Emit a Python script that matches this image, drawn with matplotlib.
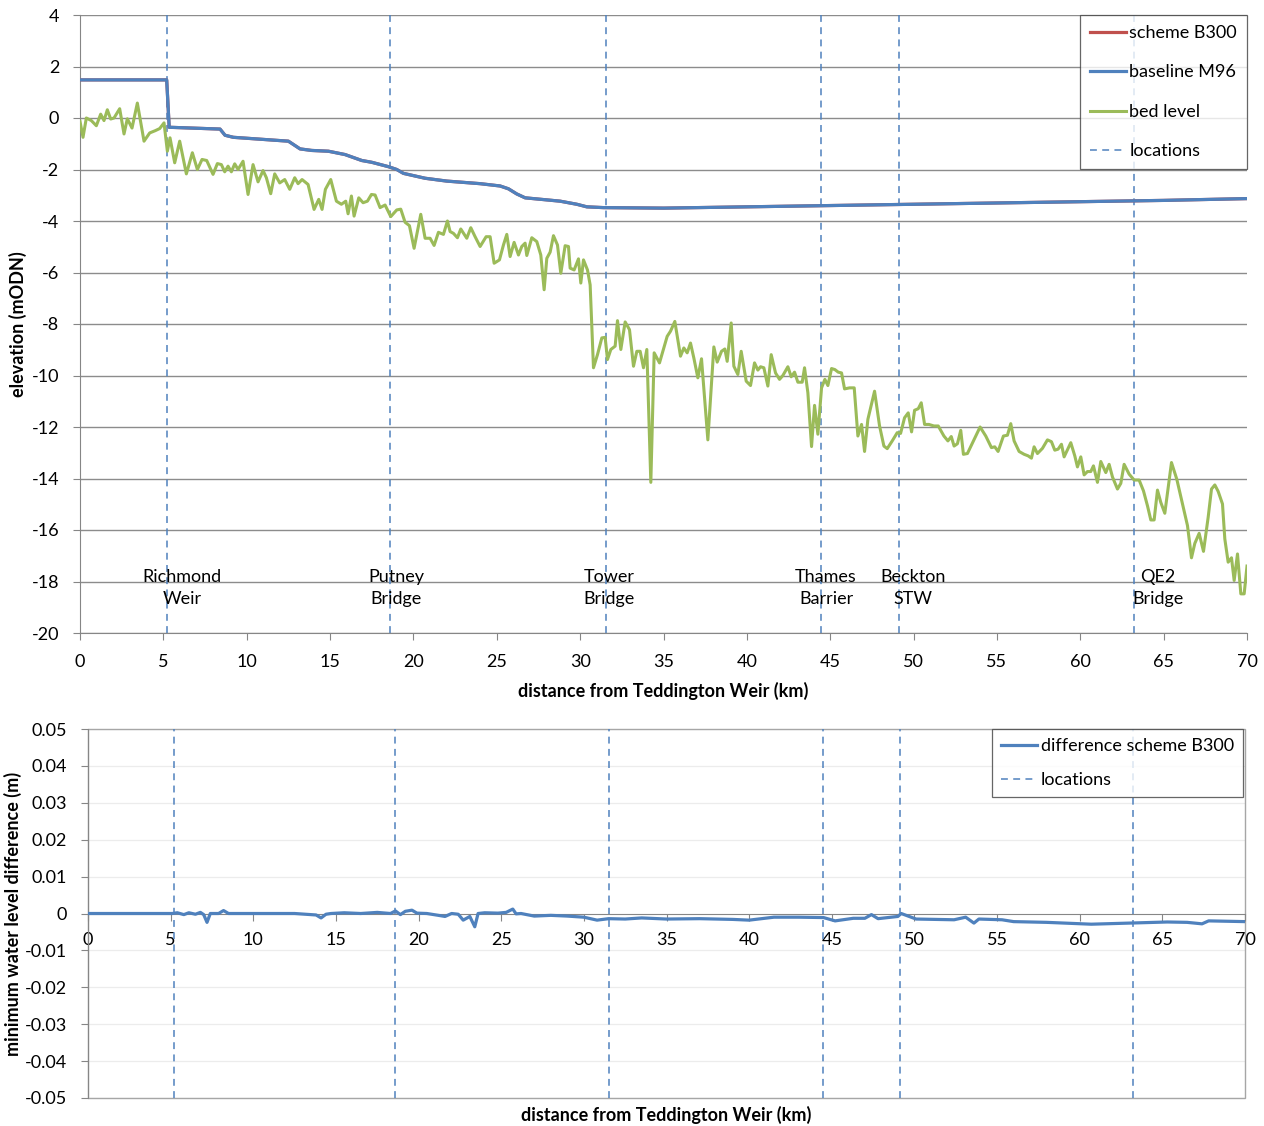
import matplotlib
matplotlib.use("Agg")
import matplotlib.pyplot as plt
from matplotlib.patches import Rectangle
import numpy as np

plt.rcParams['font.family'] = ['Lato', 'DejaVu Sans']
plt.rcParams['axes.unicode_minus'] = False

# ---------------- data ----------------
location_km = [5.22, 18.6, 31.55, 44.45, 49.13, 63.2]
location_names = ["Richmond\nWeir", "Putney\nBridge", "Tower\nBridge",
                  "Thames\nBarrier", "Beckton\nSTW", "QE2\nBridge"]
location_label_km = [6.12, 18.96, 31.74, 44.75, 49.97, 64.67]

baseline_km = [0, 5.2, 5.35, 8.4, 8.7, 9.2, 12.5, 13.2, 13.9, 14.9, 15.9, 16.9,
               17.5, 18.5, 19.0, 19.4, 20.7, 22.0, 23.0, 24.0, 25.2, 25.7, 26.2,
               26.7, 28.0, 28.8, 29.8, 30.4, 31.4, 35.0, 40.0, 45.0, 50.0, 55.0,
               60.0, 65.0, 70.0]
baseline_m96 = [1.48, 1.48, -0.36, -0.43, -0.67, -0.75, -0.9, -1.2, -1.26, -1.29,
                -1.42, -1.65, -1.72, -1.89, -2.0, -2.15, -2.34, -2.45, -2.5, -2.55,
                -2.64, -2.75, -2.95, -3.1, -3.18, -3.23, -3.35, -3.45, -3.48, -3.5,
                -3.45, -3.4, -3.35, -3.3, -3.25, -3.2, -3.13]
# scheme B300 lies under the baseline line (difference is mm-scale)
scheme_b300 = [1.48, 1.48, -0.36, -0.43, -0.67, -0.75, -0.9, -1.2, -1.26, -1.29,
               -1.42, -1.65, -1.72, -1.89, -2.0, -2.15, -2.34, -2.45, -2.5, -2.55,
               -2.64, -2.75, -2.95, -3.1, -3.18, -3.23, -3.35, -3.45, -3.48, -3.5,
               -3.45, -3.4, -3.35, -3.3, -3.25, -3.2, -3.13]

bed_km = [0.0, 0.18, 0.38, 0.68, 0.98, 1.24, 1.44, 1.64, 1.84, 2.04, 2.38, 2.64,
          2.84, 3.12, 3.44, 3.84, 4.18, 4.52, 4.78, 5.04, 5.24, 5.4, 5.68, 5.98,
          6.38, 6.74, 7.04, 7.32, 7.6, 7.98, 8.24, 8.48, 8.68, 8.88, 9.08, 9.28,
          9.48, 9.78, 10.08, 10.38, 10.68, 10.98, 11.18, 11.44, 11.68, 11.98,
          12.28, 12.58, 12.88, 13.08, 13.32, 13.68, 14.04, 14.32, 14.52, 14.72,
          15.04, 15.38, 15.68, 15.94, 16.08, 16.28, 16.44, 16.72, 16.98, 17.24,
          17.48, 17.7, 18.0, 18.3, 18.64, 19.0, 19.24, 19.5, 19.76, 20.04, 20.44,
          20.7, 21.0, 21.24, 21.5, 21.8, 22.04, 22.2, 22.4, 22.64, 22.84, 23.2,
          23.44, 23.7, 24.0, 24.36, 24.6, 24.84, 25.16, 25.4, 25.6, 25.8, 26.04,
          26.3, 26.5, 26.7, 26.8, 27.1, 27.4, 27.64, 27.84, 28.0, 28.2, 28.4,
          28.64, 28.84, 29.1, 29.3, 29.4, 29.64, 29.9, 30.04, 30.2, 30.44, 30.6,
          30.8, 31.04, 31.3, 31.5, 31.64, 31.84, 32.1, 32.24, 32.44, 32.7, 32.96,
          33.2, 33.4, 33.6, 33.8, 34.0, 34.24, 34.44, 34.76, 35.22, 35.42, 35.68,
          36.02, 36.22, 36.42, 36.62, 36.82, 37.06, 37.28, 37.66, 38.02, 38.22,
          38.48, 38.68, 38.82, 39.06, 39.22, 39.46, 39.66, 39.96, 40.22, 40.46,
          40.66, 40.82, 41.02, 41.26, 41.46, 41.72, 41.96, 42.16, 42.46, 42.66,
          42.86, 43.06, 43.32, 43.46, 43.66, 43.88, 44.06, 44.26, 44.48, 44.68,
          44.86, 45.08, 45.28, 45.48, 45.68, 45.86, 46.16, 46.44, 46.66, 46.88,
          47.06, 47.26, 47.66, 47.96, 48.22, 48.42, 48.72, 49.02, 49.22, 49.46,
          49.68, 49.88, 50.06, 50.28, 50.46, 50.66, 50.92, 51.22, 51.48, 51.82,
          52.06, 52.26, 52.43, 52.63, 52.83, 52.99, 53.23, 53.59, 53.99, 54.33,
          54.67, 54.87, 55.07, 55.39, 55.63, 55.83, 56.03, 56.33, 56.63, 56.87,
          57.07, 57.23, 57.43, 57.73, 58.03, 58.27, 58.47, 58.67, 58.87, 59.03,
          59.43, 59.67, 59.83, 60.03, 60.23, 60.43, 60.63, 60.79, 61.03, 61.23,
          61.53, 61.73, 61.93, 62.23, 62.43, 62.63, 62.93, 63.23, 63.53, 63.79,
          64.03, 64.23, 64.43, 64.63, 64.83, 65.07, 65.47, 65.79, 66.13, 66.43,
          66.67, 66.87, 67.13, 67.39, 67.67, 67.87, 68.07, 68.27, 68.53, 68.67,
          68.87, 69.07, 69.23, 69.43, 69.63, 69.83, 70.0]
bed_level = [-0.13, -0.75, 0.0, -0.1, -0.3, 0.15, -0.1, 0.32, -0.04, 0.0, 0.36,
             -0.62, -0.03, -0.39, 0.58, -0.9, -0.58, -0.49, -0.41, -0.19, -1.29,
             -0.77, -1.74, -0.9, -2.17, -1.35, -2.0, -1.61, -1.65, -2.19, -1.77,
             -1.81, -2.09, -1.87, -2.09, -1.78, -2.0, -1.68, -2.97, -1.81, -2.48,
             -2.04, -2.32, -2.94, -2.17, -2.52, -2.39, -2.77, -2.32, -2.55, -2.39,
             -2.58, -3.55, -3.16, -3.55, -2.77, -2.39, -3.23, -3.35, -3.23, -3.72,
             -3.03, -3.81, -3.1, -3.29, -3.23, -2.97, -2.99, -3.48, -3.38, -3.83,
             -3.57, -3.54, -4.05, -4.18, -5.06, -3.74, -4.67, -4.67, -4.95, -4.44,
             -4.52, -4.0, -4.41, -4.48, -4.65, -4.31, -4.67, -4.26, -4.61, -4.99,
             -4.61, -4.61, -5.64, -5.51, -4.93, -4.52, -5.38, -4.83, -5.32, -4.99,
             -4.86, -5.34, -4.65, -4.8, -5.32, -6.67, -5.45, -5.21, -4.57, -4.93,
             -6.03, -4.96, -4.99, -5.83, -5.9, -5.47, -6.41, -5.51, -5.9, -6.48,
             -9.7, -9.19, -8.54, -8.52, -9.38, -8.99, -8.86, -7.87, -8.99, -7.92,
             -8.22, -9.64, -9.06, -9.06, -9.7, -8.99, -14.15, -9.12, -9.51, -8.48,
             -8.28, -7.9, -9.25, -8.93, -9.12, -8.74, -9.32, -10.09, -9.35, -12.5,
             -8.89, -9.48, -9.06, -8.97, -9.45, -7.96, -9.64, -9.96, -9.06, -10.22,
             -10.39, -9.51, -9.79, -9.66, -9.7, -10.41, -9.19, -9.9, -10.15, -10.0,
             -9.66, -10.05, -9.87, -10.26, -10.26, -9.7, -10.67, -12.76, -11.16,
             -12.28, -10.48, -10.15, -10.39, -9.73, -9.77, -9.87, -9.9, -10.52,
             -10.48, -10.48, -12.35, -11.9, -12.95, -11.7, -10.61, -11.96, -12.74,
             -12.84, -12.54, -12.22, -12.25, -11.64, -11.45, -12.19, -11.35,
             -11.29, -11.06, -11.9, -11.9, -11.96, -11.96, -12.35, -12.54, -12.37,
             -12.74, -12.65, -12.13, -13.06, -13.03, -12.54, -12.0, -12.35, -12.8,
             -12.77, -12.95, -12.35, -12.32, -11.87, -12.54, -12.95, -13.06,
             -13.12, -13.21, -12.77, -13.03, -12.83, -12.5, -12.57, -12.9, -12.86,
             -12.67, -13.16, -12.61, -13.12, -13.55, -13.16, -13.86, -13.73,
             -13.73, -13.51, -14.15, -13.34, -13.77, -13.45, -13.94, -14.41,
             -14.19, -13.45, -13.83, -14.06, -14.06, -14.48, -15.06, -15.61,
             -15.61, -14.45, -14.93, -15.35, -13.38, -14.03, -14.99, -15.83,
             -17.08, -16.52, -16.13, -16.83, -15.51, -14.41, -14.25, -14.5,
             -14.99, -16.35, -17.25, -17.08, -17.96, -16.93, -18.48, -18.48, -17.4]

diff_km = [0, 5.1, 5.4, 5.8, 6.1, 6.5, 6.8, 7.0, 7.2, 7.4, 7.9, 8.2, 8.5, 9.5,
           11.0, 12.5, 13.8, 14.1, 14.4, 14.7, 15.5, 16.5, 17.5, 18.3, 18.6,
           18.9, 19.2, 19.6, 19.9, 20.5, 21.2, 21.6, 22.0, 22.4, 22.7, 23.1,
           23.4, 23.6, 24.0, 24.8, 25.3, 25.7, 25.9, 26.2, 27.0, 28.0, 29.0,
           30.0, 30.8, 31.5, 32.5, 33.5, 35.0, 37.0, 39.0, 40.0, 41.5, 43.0,
           44.5, 45.2, 46.3, 47.0, 47.4, 47.8, 49.0, 49.2, 50.1, 52.4, 53.1,
           53.6, 53.9, 55.3, 56.0, 58.0, 60.7, 63.0, 65.3, 66.5, 67.4, 67.8, 70.0]
diff_b300 = [0, 0, 0.0002, -0.0003, 0.0002, -0.0002, 0.0003, -0.0003, -0.0024,
             0.0, 0.0, 0.0008, 0.0, 0.0, 0.0, 0.0, -0.0004, -0.0012, -0.0002,
             0.0, 0.0002, 0.0, 0.0003, 0.0, 0.0007, -0.0003, 0.0006, 0.0009,
             0.0001, 0.0, -0.0005, -0.0008, 0.0, -0.0002, -0.0018, -0.0008,
             -0.0036, 0.0, 0.0002, 0.0001, 0.0003, 0.0012, -0.0001, 0.0, -0.0007,
             -0.0005, -0.0007, -0.001, -0.0018, -0.0014, -0.0015, -0.0012,
             -0.0015, -0.0014, -0.0016, -0.0018, -0.001, -0.001, -0.0011, -0.002,
             -0.0013, -0.0013, -0.0003, -0.0014, -0.0008, 0.0, -0.0015, -0.0017,
             -0.001, -0.0026, -0.0015, -0.0017, -0.0022, -0.0024, -0.0029,
             -0.0026, -0.0023, -0.0024, -0.0028, -0.002, -0.0022]

top_yticks = [4, 2, 0, -2, -4, -6, -8, -10, -12, -14, -16, -18, -20]
x_ticks = [0, 5, 10, 15, 20, 25, 30, 35, 40, 45, 50, 55, 60, 65, 70]
bottom_yticks = [0.05, 0.04, 0.03, 0.02, 0.01, 0.0, -0.01, -0.02, -0.03, -0.04, -0.05]
bottom_ytick_labels = ["0.05", "0.04", "0.03", "0.02", "0.01", "0", "-0.01",
                       "-0.02", "-0.03", "-0.04", "-0.05"]

# ---------------- style ----------------
RED = '#C0504D'
BLUE = '#4F81BD'
GREEN = '#9BBB59'
GRID = '#8c8c8c'
AXIS = '#868686'
FS = 13
DASH = (0, (4.5, 3.5))

fig = plt.figure(figsize=(12.64, 11.26), dpi=100)
ax1 = fig.add_axes([80 / 1264, 1 - 633 / 1126, 1167 / 1264, 618 / 1126])
ax2 = fig.add_axes([88 / 1264, 1 - 1098 / 1126, 1157 / 1264, 369 / 1126])

# ---------- top chart ----------
ax1.set_xlim(0, 70)
ax1.set_ylim(-20, 4)
for y in top_yticks:
    ax1.axhline(y, color=GRID, lw=1.0, zorder=0)
ax1.plot(baseline_km, scheme_b300, color=RED, lw=2.3, label='scheme B300', zorder=3)
ax1.plot(baseline_km, baseline_m96, color=BLUE, lw=2.3, label='baseline M96', zorder=4)
ax1.plot(bed_km, bed_level, color=GREEN, lw=2.2, label='bed level', zorder=3)
for i, xk in enumerate(location_km):
    ax1.axvline(xk, color=BLUE, lw=1.1, ls=DASH, zorder=2,
                label='locations' if i == 0 else None)
for lx, name in zip(location_label_km, location_names):
    ax1.text(lx, -18.25, name, ha='center', va='center', fontsize=FS,
             linespacing=1.42, color='black', zorder=5)

for s in ['top', 'right']:
    ax1.spines[s].set_visible(False)
ax1.spines['left'].set_color(AXIS)
ax1.spines['bottom'].set_color(AXIS)
ax1.set_xticks(x_ticks)
ax1.set_yticks(top_yticks)
ax1.tick_params(axis='both', colors=AXIS, labelcolor='black', labelsize=FS,
                direction='out', length=5)
ax1.tick_params(axis='x', pad=10)
ax1.tick_params(axis='y', pad=10)
ax1.set_xlabel('distance from Teddington Weir (km)', fontsize=FS, fontweight='bold',
               labelpad=9)
ax1.set_ylabel('elevation (mODN)', fontsize=FS, fontweight='bold', labelpad=3)
leg1 = ax1.legend(loc='upper right', bbox_to_anchor=(1.0, 1.0), borderaxespad=0,
                  fontsize=FS, frameon=True, fancybox=False, handlelength=2.0,
                  handletextpad=0.2, labelspacing=1.3, borderpad=0.55)
leg1.get_frame().set_edgecolor('#404040')
leg1.get_frame().set_linewidth(0.9)
leg1.set_zorder(10)

# ---------- bottom chart ----------
ax2.set_xlim(0, 70)
ax2.set_ylim(-0.05, 0.05)
for y in bottom_yticks:
    if y != 0.0:
        ax2.axhline(y, color='#ececec', lw=0.9, zorder=0)
ax2.add_patch(Rectangle((0, 0), 1, 1, transform=ax2.transAxes, fill=False,
                        edgecolor='#a6a6a6', lw=1.0, clip_on=False, zorder=1))
ax2.plot(diff_km, diff_b300, color=BLUE, lw=2.3, label='difference scheme B300',
         zorder=4)
for i, xk in enumerate(location_km):
    ax2.axvline(xk, color=BLUE, lw=1.1, ls=DASH, zorder=2,
                label='locations' if i == 0 else None)
for s in ['top', 'right']:
    ax2.spines[s].set_visible(False)
ax2.spines['bottom'].set_position(('data', 0))
ax2.spines['bottom'].set_color(AXIS)
ax2.spines['left'].set_color(AXIS)
ax2.set_xticks(x_ticks)
ax2.set_yticks(bottom_yticks)
ax2.set_yticklabels(bottom_ytick_labels)
ax2.tick_params(axis='both', colors=AXIS, labelcolor='black', labelsize=FS,
                direction='out', length=5)
ax2.tick_params(axis='x', pad=8)
ax2.tick_params(axis='y', pad=10)
ax2.set_xlabel('distance from Teddington Weir (km)', fontsize=FS, fontweight='bold')
ax2.xaxis.label.set_va('center')
ax2.xaxis.set_label_coords(0.5, -0.046)
ax2.set_ylabel('minimum water level difference (m)', fontsize=FS, fontweight='bold',
               labelpad=2)
leg2 = ax2.legend(loc='upper right', bbox_to_anchor=(0.998, 1.0), borderaxespad=0,
                  fontsize=FS, frameon=True, fancybox=False, handlelength=2.0,
                  handletextpad=0.2, labelspacing=1.0, borderpad=0.5)
leg2.get_frame().set_edgecolor('#404040')
leg2.get_frame().set_linewidth(0.9)

fig.savefig('out.png', dpi=100, facecolor='white')
